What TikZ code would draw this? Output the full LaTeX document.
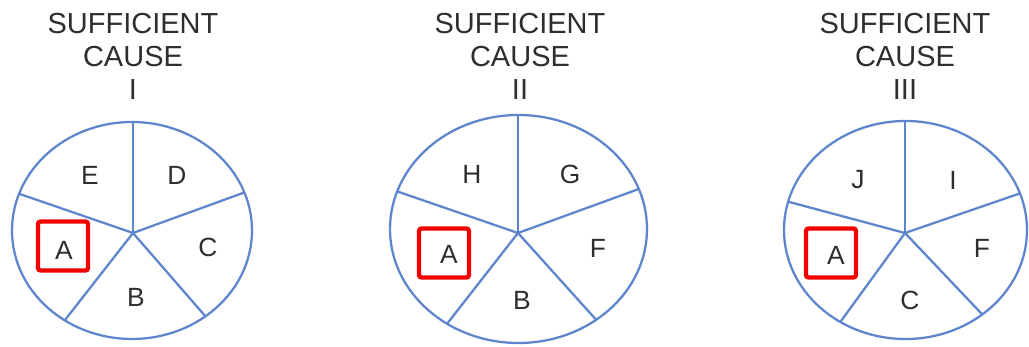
\documentclass[tikz,border=0pt]{standalone}
\usepackage{fontspec}
\setmainfont{Liberation Sans}
\usetikzlibrary{positioning}
\definecolor{pieblue}{HTML}{5F86CC}
\definecolor{inkgray}{HTML}{2E2E2E}
\definecolor{keyred}{HTML}{F20000}
\tikzset{
  rim/.style={draw=pieblue, line width=1.3pt},
  spoke/.style={draw=pieblue, line width=1.3pt},
  causetitle/.style={anchor=north, inner sep=0pt, align=center, text=inkgray,
                     font=\fontsize{16.5}{18.8}\selectfont},
  lab/.style={inner sep=0pt, text=inkgray, font=\fontsize{15}{18}\selectfont},
  keybox/.style={draw=keyred, line width=2.5pt, rounded corners=1.5pt,
                 minimum width=1cm, minimum height=0.98cm, inner sep=0pt}}

\begin{document}
\begin{tikzpicture}[x=0.02cm, y=-0.02cm]
  \useasboundingbox (0,0) rectangle (1029,347);
  % titles
  \node[causetitle] (tI)   at (133,12.7) {SUFFICIENT\\CAUSE\\I};
  \node[causetitle] (tII)  at (520,12.7) {SUFFICIENT\\CAUSE\\II};
  \node[causetitle] (tIII) at (905,12.7) {SUFFICIENT\\CAUSE\\III};
  % pie I
  \coordinate (hubI) at (133,233);
  \begin{scope}
    \clip (132,230.5) ellipse [x radius=120, y radius=108.5];
    \foreach \a in {-90,-20,49,128,-161} \draw[spoke] (hubI) -- ++(\a:200);
  \end{scope}
  \draw[rim] (132,230.5) ellipse [x radius=120, y radius=108.5];
  \node[lab] (eI) at (90,175) {E};
  \node[lab] (dI) at (177,175) {D};
  \node[lab] (cI) at (208,247) {C};
  \node[lab] (bI) at (136,297) {B};
  \node[keybox] (kI) at (63,246) {};
  \node[lab] (aI) at (64,250.5) {A};
  % pie II
  \coordinate (hubII) at (518,233);
  \begin{scope}
    \clip (518.5,229) ellipse [x radius=128.5, y radius=114];
    \foreach \a in {-90,-20,48,128,-161} \draw[spoke] (hubII) -- ++(\a:200);
  \end{scope}
  \draw[rim] (518.5,229) ellipse [x radius=128.5, y radius=114];
  \node[lab] (hII) at (472,174) {H};
  \node[lab] (gII) at (570,174) {G};
  \node[lab] (fII) at (598,248) {F};
  \node[lab] (bII) at (522,300) {B};
  \node[keybox] (kII) at (444,253) {};
  \node[lab] (aII) at (449,254.6) {A};
  % pie III
  \coordinate (hubIII) at (905,233);
  \begin{scope}
    \clip (905.5,230) ellipse [x radius=121.5, y radius=109];
    \foreach \a in {-90,-19,46.5,126,-165} \draw[spoke] (hubIII) -- ++(\a:200);
  \end{scope}
  \draw[rim] (905.5,230) ellipse [x radius=121.5, y radius=109];
  \node[lab] (jIII) at (858,180) {J};
  \node[lab] (iIII) at (953,180) {I};
  \node[lab] (fIII) at (982,248) {F};
  \node[lab] (cIII) at (910,300) {C};
  \node[keybox] (kIII) at (831,253) {};
  \node[lab] (aIII) at (836,255) {A};
\end{tikzpicture}
\end{document}
